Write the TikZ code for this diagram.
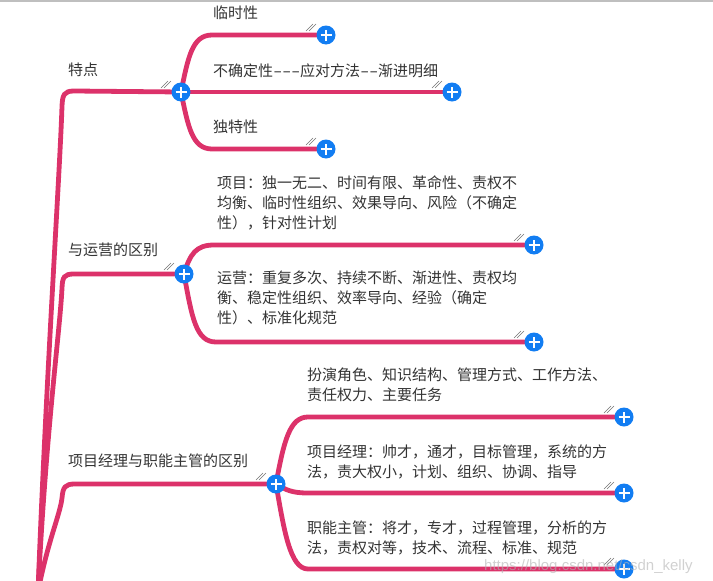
\documentclass[tikz,border=0pt]{standalone}
\usepackage{fontspec}
\newfontfamily\cjk{Noto Sans CJK SC}
\newfontfamily\wmfont{Liberation Sans}
\usepackage{tikz}
\usetikzlibrary{backgrounds}
\definecolor{branchred}{RGB}{220,50,106}
\definecolor{plusblue}{RGB}{18,125,242}
\definecolor{txtgray}{RGB}{51,51,51}
\newcommand{\hatchmark}[1]{\draw[hatchline] ([shift={(-20,-4)}]#1.center) -- ++(7,-7) ([shift={(-17,-4)}]#1.center) -- ++(7,-7);}
\newcommand{\wdash}{\makebox[9pt]{\scalebox{1.7}[1]{-}}}

\begin{document}
\begin{tikzpicture}[x=1pt,y=-1pt]
\tikzstyle{every node}=[inner sep=0pt,font=\cjk\fontsize{15}{20}\selectfont,text=txtgray]
\tikzstyle{branch}=[draw=branchred,line width=4.8pt,line cap=round]
\tikzstyle{plus}=[circle,fill=plusblue,minimum size=19pt,path picture={\draw[white,line width=2.4pt] ([xshift=-5.5pt]path picture bounding box.center) -- ([xshift=5.5pt]path picture bounding box.center) ([yshift=-5.5pt]path picture bounding box.center) -- ([yshift=5.5pt]path picture bounding box.center);}]
\tikzstyle{hatchline}=[draw=black!55,line width=0.6pt]
\tikzstyle{lbl}=[anchor=west,align=left]
\useasboundingbox (0,0) rectangle (713,581);
\draw[black!25,line width=1.5pt] (0,0.75) -- (713,0.75);
\coordinate (root) at (38,592);
% hubs and buttons
\node[plus] (h1) at (181,92) {};
\node[plus] (h2) at (184,274) {};
\node[plus] (h3) at (276,484) {};
\node[plus] (b11) at (326,35) {};
\node[plus] (b12) at (452,92) {};
\node[plus] (b13) at (326,149) {};
\node[plus] (b21) at (534,245) {};
\node[plus] (b22) at (534,342) {};
\node[plus] (b31) at (624,417) {};
\node[plus] (b32) at (624,493) {};
\node[plus] (b33) at (624,569) {};
\foreach \b in {h1,h2,h3,b11,b12,b13,b21,b22,b31,b32,b33} {\hatchmark{\b}}
% labels
\node[lbl] (t1) at (68,70) {特点};
\node[lbl] (t11) at (213,13) {临时性};
\node[lbl] (t12) at (213,71) {不确定性\wdash\wdash\wdash 应对方法\wdash\wdash 渐进明细};
\node[lbl] (t13) at (213,127) {独特性};
\node[lbl] (t2) at (68,250) {与运营的区别};
\node[lbl] (t21) at (217,203) {项目：独一无二、时间有限、革命性、责权不\\均衡、临时性组织、效果导向、风险（不确定\\性），针对性计划};
\node[lbl] (t22) at (217,298) {运营：重复多次、持续不断、渐进性、责权均\\衡、稳定性组织、效率导向、经验（确定\\性）、标准化规范};
\node[lbl] (t3) at (68,461) {项目经理与职能主管的区别};
\node[lbl] (t31) at (307,385) {扮演角色、知识结构、管理方式、工作方法、\\责任权力、主要任务};
\node[lbl] (t32) at (307,462) {项目经理：帅才，通才，目标管理，系统的方\\法，责大权小，计划、组织、协调、指导};
\node[lbl] (t33) at (307,538) {职能主管：将才，专才，过程管理，分析的方\\法，责权对等，技术、流程、标准、规范};
\begin{scope}[on background layer]
\draw[branch] (root) .. controls (46,380) and (60,170) .. (62,106) .. controls (62.5,95) and (64,91) .. (74,91) -- (h1.center);
\draw[branch] (root) .. controls (46,430) and (60,330) .. (62,288) .. controls (62.5,277) and (64,274) .. (74,274) -- (h2.center);
\draw[branch] (root) .. controls (48,540) and (60,515) .. (62,498) .. controls (63,487) and (65,484) .. (75,484) -- (h3.center);
\draw[branch] (h1.center) .. controls (188,58) and (192,35) .. (212,35) -- (b11.center);
\draw[branch] (h1.center) -- (b12.center);
\draw[branch] (h1.center) .. controls (188,126) and (192,149) .. (212,149) -- (b13.center);
\draw[branch] (h2.center) .. controls (190,254) and (196,245) .. (214,245) -- (b21.center);
\draw[branch] (h2.center) .. controls (192,318) and (196,342) .. (216,342) -- (b22.center);
\draw[branch] (h3.center) .. controls (284,440) and (290,417) .. (308,417) -- (b31.center);
\draw[branch] (h3.center) .. controls (286,490) and (292,493) .. (308,493) -- (b32.center);
\draw[branch] (h3.center) .. controls (284,530) and (290,569) .. (308,569) -- (b33.center);
\end{scope}
\node[anchor=west,font=\wmfont\fontsize{15}{18}\selectfont,text=black!30,text opacity=0.6] (wm) at (484,567) {https://blog.csdn.net/csdn\_kelly};
\end{tikzpicture}
\end{document}
